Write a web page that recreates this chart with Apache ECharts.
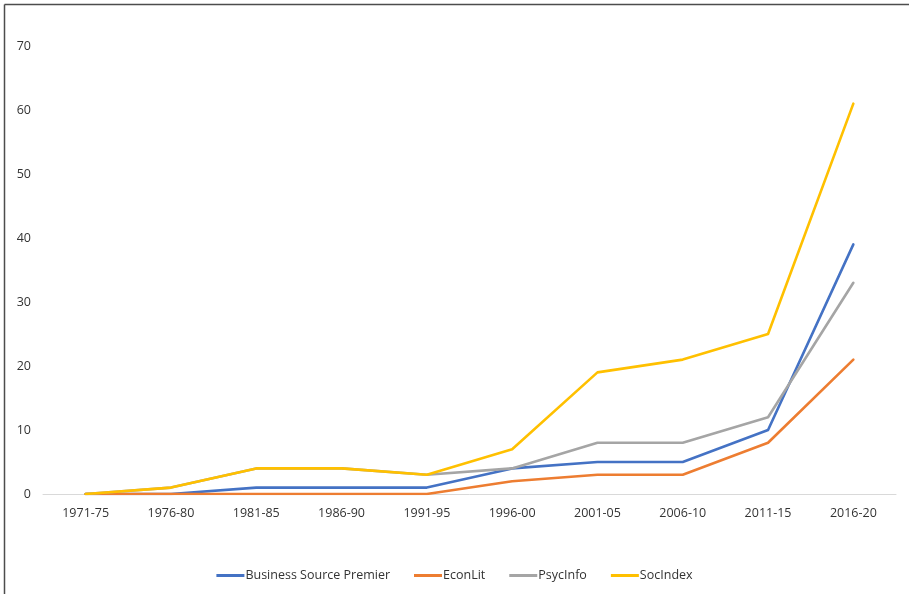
<!DOCTYPE html>
<html>
<head>
<meta charset="utf-8">
<script src="https://cdn.jsdelivr.net/npm/echarts@6/dist/echarts.min.js"></script>
<style>html,body{margin:0;padding:0;background:#fff;}#c{width:909px;height:594px;}</style>
</head>
<body>
<div id="c"></div>
<script>
var categories = ['1971-75','1976-80','1981-85','1986-90','1991-95','1996-00','2001-05','2006-10','2011-15','2016-20'];
var seriesNames = ['Business Source Premier','EconLit','PsycInfo','SocIndex'];
var businessSource = [0,0,1,1,1,4,5,5,10,39];
var econLit = [0,0,0,0,0,2,3,3,8,21];
var psycInfo = [0,1,4,4,3,4,8,8,12,33];
var socIndex = [0,1,4,4,3,7,19,21,25,61];
var yTicks = [0,10,20,30,40,50,60,70];

var colors = ['#4472C4','#ED7D31','#A5A5A5','#FFC000'];
var values = [businessSource, econLit, psycInfo, socIndex];
var font = '"Open Sans", "Noto Sans", sans-serif';
var chart = echarts.init(document.getElementById('c'), null, {renderer:'canvas'});
chart.setOption({
  animation:false,
  color: colors,
  graphic: [
    {type:'line', shape:{x1:4.5,y1:4.5,x2:909,y2:4.5}, style:{stroke:'#4d4d4d', lineWidth:1.5}},
    {type:'line', shape:{x1:4.5,y1:4.5,x2:4.5,y2:594}, style:{stroke:'#4d4d4d', lineWidth:1.5}}
  ],
  grid:{left:43, right:13, top:46, bottom:100, containLabel:false},
  legend:{
    bottom:7, left:'center',
    data: seriesNames,
    icon:'rect', itemWidth:28, itemHeight:3, itemGap:24,
    textStyle:{fontFamily:font, fontSize:12.5, color:'#333333', padding:[0,0,0,-4]}
  },
  xAxis:{
    type:'category', data:categories, boundaryGap:true,
    axisLine:{lineStyle:{color:'#d9d9d9', width:1}},
    axisTick:{show:false},
    axisLabel:{fontFamily:font, fontSize:12.5, color:'#333333', margin:13}
  },
  yAxis:{
    type:'value', min:yTicks[0], max:yTicks[yTicks.length-1], interval:10,
    axisLine:{show:false}, axisTick:{show:false}, splitLine:{show:false},
    axisLabel:{fontFamily:font, fontSize:12.5, color:'#333333', margin:12}
  },
  series: seriesNames.map(function(n,i){
    return {name:n, type:'line', data:values[i], symbol:'none', smooth:false,
      lineStyle:{width:2.6, color:colors[i], cap:'round', join:'round'}, itemStyle:{color:colors[i]}};
  })
});
</script>
</body>
</html>
